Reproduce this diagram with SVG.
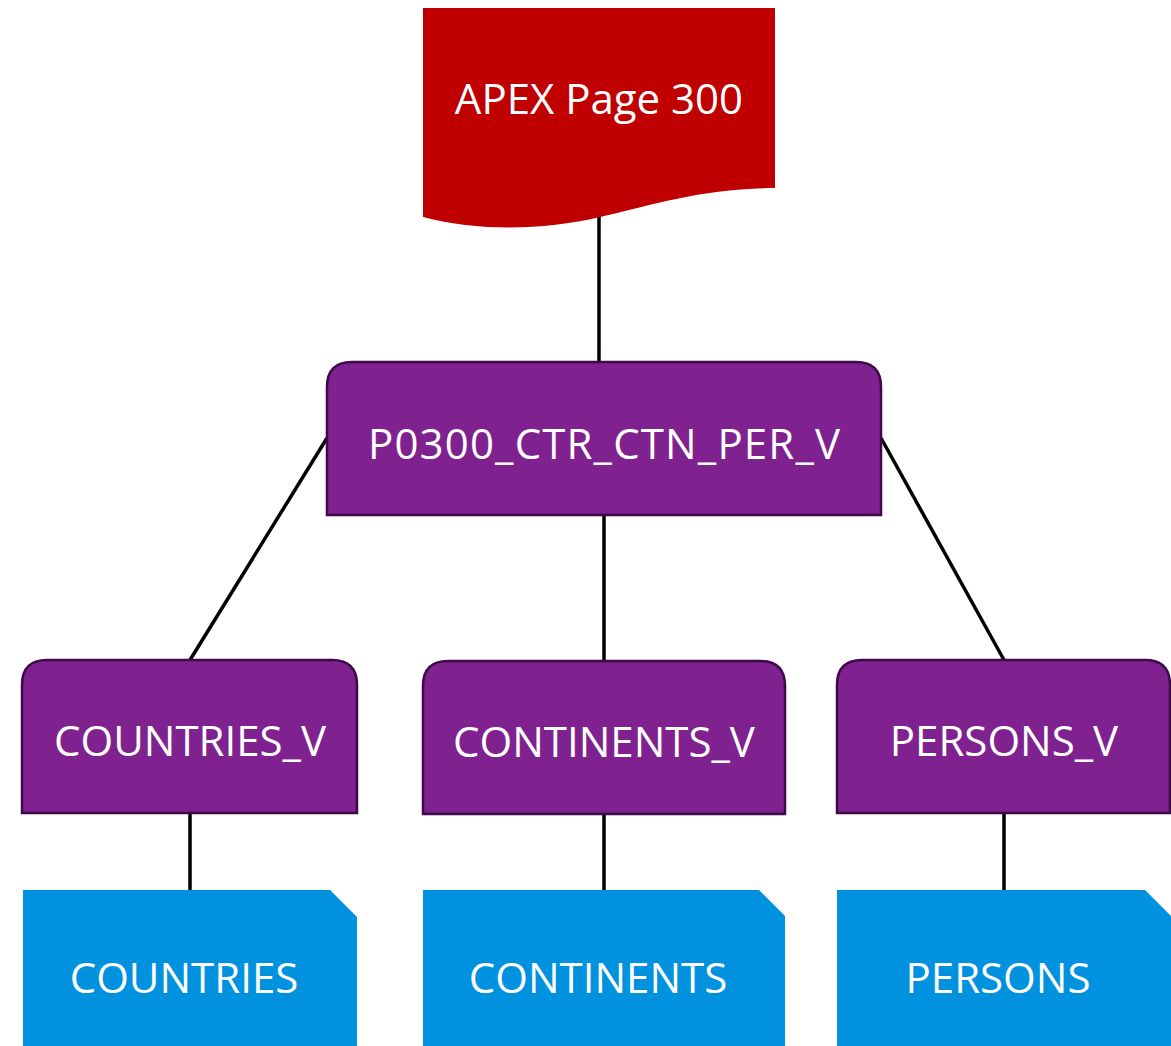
<svg xmlns="http://www.w3.org/2000/svg" width="1171" height="1046" viewBox="0 0 1171 1046">
<style>
.lbl{font-family:"Open Sans","Liberation Sans",sans-serif;font-size:42px;fill:#fff;text-anchor:middle}
.view{fill:#7F218F;stroke:#3D0A47;stroke-width:2.5}
.tbl{fill:#0091DF}
.conn line{stroke:#000;stroke-width:3.5}
</style>
<rect width="1171" height="1046" fill="#fff"/>
<g class="conn">
<line x1="599" y1="210" x2="599" y2="362"/>
<line x1="327" y1="438" x2="190" y2="660"/>
<line x1="604" y1="515" x2="604" y2="661"/>
<line x1="881" y1="438" x2="1004" y2="660"/>
<line x1="190" y1="813" x2="190" y2="890"/>
<line x1="604" y1="814" x2="604" y2="890"/>
<line x1="1004" y1="813" x2="1004" y2="890"/>
</g>
<g id="apex">
<path d="M423,8 H775 V188 C705,188 655,204 600,217 C545,230 480,232 423,217 Z" fill="#C00000"/>
<text class="lbl" x="599" y="114">APEX Page 300</text>
</g>
<g id="p0300">
<path class="view" d="M327,515 V387 Q327,362 352,362 H856 Q881,362 881,387 V515 Z"/>
<text class="lbl" x="604" y="459" textLength="472">P0300_CTR_CTN_PER_V</text>
</g>
<g id="countries_v">
<path class="view" d="M22,813 V685 Q22,660 47,660 H332 Q357,660 357,685 V813 Z"/>
<text class="lbl" x="190" y="756">COUNTRIES_V</text>
</g>
<g id="continents_v">
<path class="view" d="M423,814 V686 Q423,661 448,661 H760 Q785,661 785,686 V814 Z"/>
<text class="lbl" x="604" y="757">CONTINENTS_V</text>
</g>
<g id="persons_v">
<path class="view" d="M837,813 V685 Q837,660 862,660 H1145 Q1170,660 1170,685 V813 Z"/>
<text class="lbl" x="1004" y="756">PERSONS_V</text>
</g>
<g id="countries">
<path class="tbl" d="M23,890 H330 L357,917 V1046 H23 Z"/>
<text class="lbl" x="184" y="993">COUNTRIES</text>
</g>
<g id="continents">
<path class="tbl" d="M423,890 H759 L785,916 V1046 H423 Z"/>
<text class="lbl" x="598" y="993">CONTINENTS</text>
</g>
<g id="persons">
<path class="tbl" d="M837,890 H1145 L1171,916 V1046 H837 Z"/>
<text class="lbl" x="998" y="993">PERSONS</text>
</g>
</svg>
